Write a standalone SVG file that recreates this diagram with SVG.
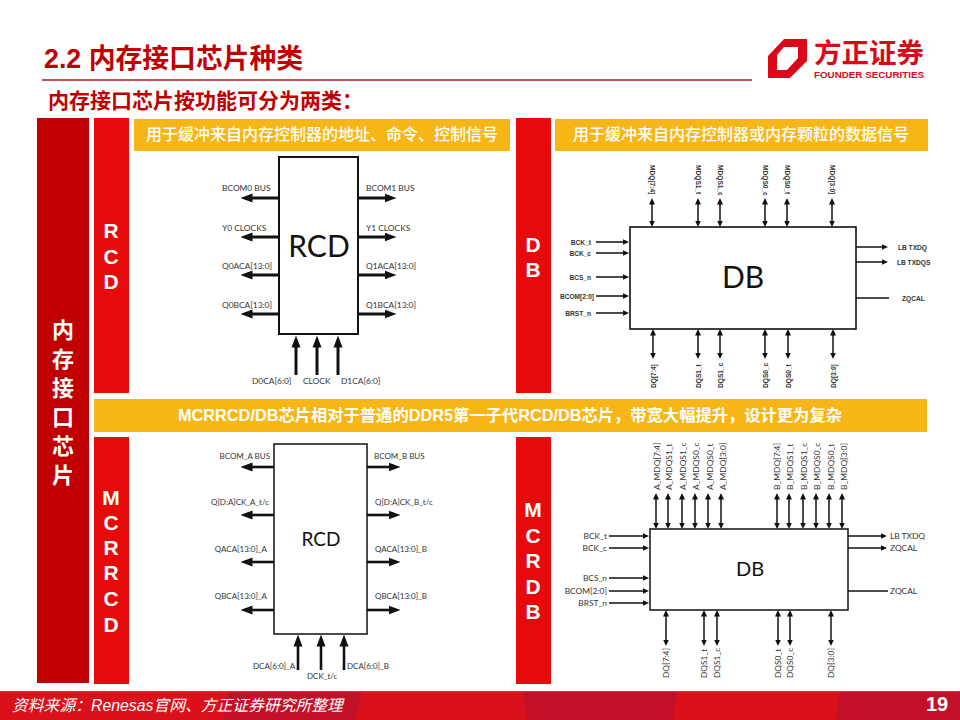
<svg xmlns="http://www.w3.org/2000/svg" width="960" height="720" viewBox="0 0 960 720">
<style>
text{font-family:"Liberation Sans","Noto Sans CJK SC",sans-serif}
.title{font-size:26.8px;font-weight:700;fill:#c00000}
.sub{font-size:21px;font-weight:700;fill:#c00000}
.yel{font-size:16px;fill:#fff;font-weight:500;text-anchor:middle}
.ban{font-size:16.3px;fill:#fff;font-weight:700;text-anchor:middle}
.v{font-weight:700;fill:#fff;text-anchor:middle;font-size:21px}
.vc{font-size:22px}
.box{fill:#fff;stroke:#111}
.c{fill:#333;font-size:8.4px}
.c8{fill:#333;font-size:8px}
.c text,.c8 text{font-family:Lato,"Liberation Sans",sans-serif}
.s{font-size:6.6px;font-weight:700;fill:#333}
text.big{font-family:Lato,"Liberation Sans",sans-serif;fill:#111;text-anchor:middle}
.e{text-anchor:end}
.a1 path{stroke:#111;stroke-width:3;fill:none;marker-end:url(#h1)}
.a1b path{stroke:#111;stroke-width:2.6;fill:none;marker-end:url(#h1)}
.a2 path{stroke:#111;stroke-width:1.5;fill:none;marker-start:url(#h2);marker-end:url(#h2)}
.a3 path{stroke:#111;stroke-width:1.5;fill:none;marker-end:url(#h2)}
.a4 path{stroke:#111;stroke-width:1.6;fill:none}
</style>
<defs>
<marker id="h1" markerUnits="userSpaceOnUse" markerWidth="12" markerHeight="10" refX="0.5" refY="5" orient="auto-start-reverse"><path d="M0,0.5L12,5L0,9.5z" fill="#111"/></marker>
<marker id="h2" markerUnits="userSpaceOnUse" markerWidth="7" markerHeight="7" refX="0.5" refY="3.5" orient="auto-start-reverse"><path d="M0,0.5L6.5,3.5L0,6.5z" fill="#111"/></marker>
</defs>
<rect width="960" height="720" fill="#fff"/>

<g id="header">
<text class="title" x="44" y="68">2.2 内存接口芯片种类</text>
<rect x="42" y="79" width="710" height="2" fill="#c0504d"/>
<text class="sub" x="48" y="108">内存接口芯片按功能可分为两类：</text>
</g>
<g id="logo">
<path fill-rule="evenodd" d="M784,39H807V61L790,78H768V56zM784,47L777,55V70H787L798,58V47z" fill="#d9091a"/>
<text x="814" y="63" font-size="27.5" font-weight="700" fill="#d9091a">方正证券</text>
<text x="814" y="78" font-size="9.8" font-weight="700" fill="#d9091a">FOUNDER SECURITIES</text>
</g>

<g id="node-memory">
<rect x="37" y="118" width="52" height="565" fill="#c00000"/>
<text class="v vc" x="63" y="338">内</text><text class="v vc" x="63" y="367">存</text><text class="v vc" x="63" y="396">接</text><text class="v vc" x="63" y="425">口</text><text class="v vc" x="63" y="454">芯</text><text class="v vc" x="63" y="483">片</text>
</g>
<g id="node-rcd-tab">
<rect x="94" y="118" width="35" height="275" fill="#e60a0a"/>
<text class="v" x="111" y="238">R</text><text class="v" x="111" y="264">C</text><text class="v" x="111" y="289">D</text>
</g>
<g id="node-db-tab">
<rect x="516" y="118" width="35" height="275" fill="#e60a0a"/>
<text class="v" x="533" y="252">D</text><text class="v" x="533" y="277">B</text>
</g>
<g id="node-mcrrcd-tab">
<rect x="94" y="437" width="35" height="247" fill="#e60a0a"/>
<text class="v" x="111" y="505">M</text><text class="v" x="111" y="530">C</text><text class="v" x="111" y="555">R</text><text class="v" x="111" y="580">R</text><text class="v" x="111" y="606">C</text><text class="v" x="111" y="632">D</text>
</g>
<g id="node-mcrdb-tab">
<rect x="516" y="437" width="35" height="247" fill="#e60a0a"/>
<text class="v" x="533" y="517">M</text><text class="v" x="533" y="543">C</text><text class="v" x="533" y="568">R</text><text class="v" x="533" y="594">D</text><text class="v" x="533" y="619">B</text>
</g>
<g id="node-banner-rcd"><rect x="134" y="119" width="376" height="32" fill="#f8b616"/><text class="yel" x="322" y="140">用于缓冲来自内存控制器的地址、命令、控制信号</text></g>
<g id="node-banner-db"><rect x="555" y="119" width="373" height="32" fill="#f8b616"/><text class="yel" x="741" y="140">用于缓冲来自内存控制器或内存颗粒的数据信号</text></g>
<g id="node-banner-mcr"><rect x="94" y="399" width="833" height="33" fill="#f8b616"/><text class="ban" x="510" y="421">MCRRCD/DB芯片相对于普通的DDR5第一子代RCD/DB芯片，带宽大幅提升，设计更为复杂</text></g>

<g id="node-rcd">
<rect class="box" x="279" y="157" width="79" height="177" stroke-width="2"/>
<text class="big" font-size="30" x="319" y="257">RCD</text>
<g class="c">
<text x="222" y="191">BCOM0 BUS</text><text x="222" y="231">Y0 CLOCKS</text><text x="222" y="269">Q0ACA[13:0]</text><text x="222" y="308">Q0BCA[13:0]</text>
<text x="366" y="191">BCOM1 BUS</text><text x="366" y="231">Y1 CLOCKS</text><text x="366" y="269">Q1ACA[13:0]</text><text x="366" y="308">Q1BCA[13:0]</text>
<text x="252" y="384">D0CA[6:0]</text><text x="303" y="384">CLOCK</text><text x="341" y="384">D1CA[6:0]</text>
</g>
</g>

<g id="node-db">
<rect class="box" x="630" y="227" width="226" height="102" stroke-width="1.6"/>
<text class="big" font-size="30" x="743" y="288">DB</text>
<g class="s">
<text class="e" x="591" y="244.5">BCK_t</text><text class="e" x="591" y="255.5">BCK_c</text><text class="e" x="591" y="279.5">BCS_n</text><text class="e" x="594" y="298.5">BCOM[2:0]</text><text class="e" x="591" y="315.5">BRST_n</text>
<text x="898" y="249.5">LB TXDQ</text><text x="897" y="264.5">LB TXDQS</text><text x="902" y="300.5">ZQCAL</text>
<text transform="translate(650,165) rotate(90)">MDQ[7:4]</text><text transform="translate(696,165) rotate(90)">MDQS1_t</text><text transform="translate(718,165) rotate(90)">MDQS1_c</text><text transform="translate(763,165) rotate(90)">MDQS0_c</text><text transform="translate(785,165) rotate(90)">MDQS0_t</text><text transform="translate(830,165) rotate(90)">MDQ[3:0]</text>
<text transform="translate(655.5,388) rotate(-90)">DQ[7:4]</text><text transform="translate(700.5,388) rotate(-90)">DQS1_t</text><text transform="translate(722.5,388) rotate(-90)">DQS1_c</text><text transform="translate(767.5,388) rotate(-90)">DQS0_c</text><text transform="translate(790.5,388) rotate(-90)">DQS0_t</text><text transform="translate(835.5,388) rotate(-90)">DQ[3:0]</text>
</g>
</g>

<g id="node-mcr-rcd">
<rect class="box" x="274" y="444" width="93" height="190" stroke-width="1.5"/>
<text class="big" font-size="19" x="321" y="546">RCD</text>
<g class="c8">
<text class="e" x="270" y="459">BCOM_A BUS</text><text class="e" x="269" y="505">Q[D:A]CK_A_t/c</text><text class="e" x="267" y="552">QACA[13:0]_A</text><text class="e" x="267" y="599">QBCA[13:0]_A</text>
<text x="374" y="459">BCOM_B BUS</text><text x="375" y="505">Q[D:A]CK_B_t/c</text><text x="375" y="552">QACA[13:0]_B</text><text x="375" y="599">QBCA[13:0]_B</text>
<text x="253" y="669">DCA[6:0]_A</text><text x="307" y="679">DCK_t/c</text><text x="347" y="669">DCA[6:0]_B</text>
</g>
</g>

<g id="node-mcr-db">
<rect class="box" x="650" y="529" width="198" height="81" stroke-width="1.5"/>
<text class="big" font-size="20" x="750" y="576">DB</text>
<g class="c">
<text class="e" x="607" y="539">BCK_t</text><text class="e" x="607" y="551">BCK_c</text><text class="e" x="607" y="581">BCS_n</text><text class="e" x="607" y="594">BCOM[2:0]</text><text class="e" x="607" y="606">BRST_n</text>
<text x="890" y="539">LB TXDQ</text><text x="890" y="551">ZQCAL</text><text x="890" y="594">ZQCAL</text>
<text transform="translate(660,490) rotate(-90)">A_MDQ[7:4]</text><text transform="translate(672,490) rotate(-90)">A_MDQS1_t</text><text transform="translate(686,490) rotate(-90)">A_MDQS1_c</text><text transform="translate(699,490) rotate(-90)">A_MDQS0_c</text><text transform="translate(713,490) rotate(-90)">A_MDQS0_t</text><text transform="translate(726,490) rotate(-90)">A_MDQ[3:0]</text>
<text transform="translate(780,490) rotate(-90)">B_MDQ[7:4]</text><text transform="translate(793,490) rotate(-90)">B_MDQS1_t</text><text transform="translate(807,490) rotate(-90)">B_MDQS1_c</text><text transform="translate(820,490) rotate(-90)">B_MDQS0_c</text><text transform="translate(834,490) rotate(-90)">B_MDQS0_t</text><text transform="translate(847,490) rotate(-90)">B_MDQ[3:0]</text>
<text transform="translate(669,678) rotate(-90)">DQ[7:4]</text><text transform="translate(707,678) rotate(-90)">DQS1_t</text><text transform="translate(720,678) rotate(-90)">DQS1_c</text><text transform="translate(781,678) rotate(-90)">DQS0_t</text><text transform="translate(793,678) rotate(-90)">DQS0_c</text><text transform="translate(834,678) rotate(-90)">DQ[3:0]</text>
</g>
</g>

<g id="connectors">
<g class="a1">
<path d="M279,198H252"/><path d="M279,237H252"/><path d="M279,275H252"/><path d="M279,314H252"/>
<path d="M358,198H385"/><path d="M358,237H385"/><path d="M358,275H385"/><path d="M358,314H385"/>
<path d="M296,375V347"/><path d="M317,375V347"/><path d="M338,375V347"/>
</g>
<g class="a1b">
<path d="M274,467H252"/><path d="M274,515H252"/><path d="M274,562H252"/><path d="M274,610H252"/>
<path d="M367,467H389"/><path d="M367,515H389"/><path d="M367,562H389"/><path d="M367,610H389"/>
<path d="M298,670V646"/><path d="M321,670V646"/><path d="M344,670V646"/>
</g>
<g class="a2">
<path d="M652,204V221"/><path d="M698,204V221"/><path d="M720,204V221"/><path d="M765,204V221"/><path d="M787,204V221"/><path d="M832,204V221"/>
<path d="M653,335V353"/><path d="M698,335V353"/><path d="M720,335V353"/><path d="M765,335V353"/><path d="M788,335V353"/><path d="M833,335V353"/>
<path d="M656,499V523"/><path d="M668,499V523"/><path d="M682,499V523"/><path d="M695,499V523"/><path d="M708,499V523"/><path d="M721,499V523"/>
<path d="M777,499V523"/><path d="M789,499V523"/><path d="M803,499V523"/><path d="M816,499V523"/><path d="M829,499V523"/><path d="M842,499V523"/>
<path d="M666,616V640"/><path d="M704,616V640"/><path d="M717,616V640"/><path d="M778,616V640"/><path d="M790,616V640"/><path d="M831,616V640"/>
</g>
<g class="a3">
<path d="M596,242H623"/><path d="M596,253H623"/><path d="M596,277H623"/><path d="M596,296H623"/><path d="M596,313H623"/>
<path d="M856,247H882"/><path d="M856,262H882"/>
<path d="M609,536H643"/><path d="M609,548H643"/><path d="M609,578H643"/><path d="M609,591H643"/><path d="M609,603H643"/>
<path d="M848,536H881"/><path d="M848,548H881"/>
</g>
<g class="a4"><path d="M856,298H889"/><path d="M848,591H888"/></g>
</g>

<g id="footer">
<rect y="691" width="960" height="29" fill="#da111b"/>
<rect y="691" width="960" height="1.5" fill="#d0303a"/>
<path d="M228,692.5H362L355,720H223zM523,692.5H677L672,720H528zM840,692.5H960V720H836z" fill="#c21028"/>
<text x="12" y="711" font-size="15.8" font-style="italic" fill="#fff">资料来源：Renesas官网、方正证券研究所整理</text>
<text x="926" y="711" font-size="20" font-weight="700" fill="#fff">19</text>
</g>
</svg>
